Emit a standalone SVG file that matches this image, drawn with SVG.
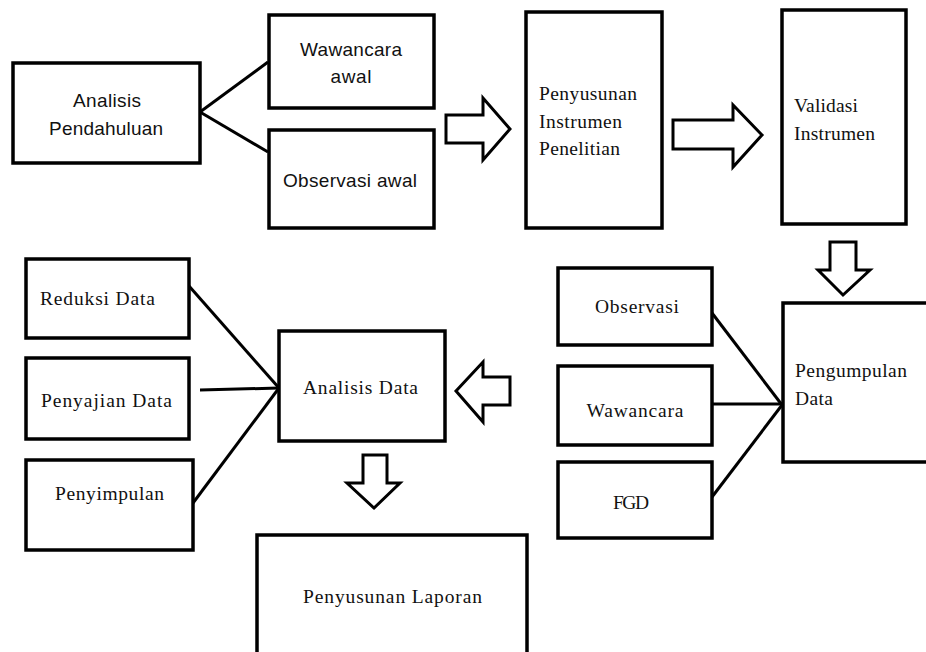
<svg xmlns="http://www.w3.org/2000/svg" width="926" height="652" viewBox="0 0 926 652">
<style>
.box{fill:#fff;stroke:#000;stroke-width:3.5}
.ln{stroke:#000;stroke-width:3;fill:none}
.arr{fill:#fff;stroke:#000;stroke-width:3;stroke-linejoin:miter}
.s{font-family:"Liberation Sans",Arial,sans-serif;font-size:19px;fill:#111}
.t{font-family:"Liberation Serif","Times New Roman",serif;font-size:19.5px;fill:#111}
</style>
<rect width="926" height="652" fill="#fff"/>
<g id="connectors">
<line class="ln" x1="200" y1="112" x2="268" y2="62"/>
<line class="ln" x1="200" y1="112" x2="268" y2="152"/>
<line class="ln" x1="189" y1="286" x2="279" y2="388"/>
<line class="ln" x1="200" y1="390" x2="279" y2="388"/>
<line class="ln" x1="193" y1="503" x2="279" y2="388"/>
<line class="ln" x1="712" y1="313" x2="782" y2="405"/>
<line class="ln" x1="712" y1="404" x2="782" y2="404"/>
<line class="ln" x1="712" y1="497" x2="782" y2="405"/>
<polygon class="arr" points="446,115 483,115 483,98 510,129 483,160 483,143 446,143"/>
<polygon class="arr" points="673,120 733,120 733,105 762,135 733,167 733,149 673,149"/>
<polygon class="arr" points="830,242 856,242 856,270 870,270 843,295 818,270 830,270"/>
<polygon class="arr" points="510,377 483,377 483,362 456,391 483,422 483,405 510,405"/>
<polygon class="arr" points="363,455 387,455 387,483 400,483 374,508 347,483 363,483"/>
</g>
<g id="analisis-pendahuluan">
<rect class="box" x="13" y="63" width="187" height="100"/>
<text class="s" x="107" y="107" text-anchor="middle" textLength="68">Analisis</text>
<text class="s" x="106" y="135" text-anchor="middle" textLength="114">Pendahuluan</text>
</g>
<g id="wawancara-awal">
<rect class="box" x="269" y="15" width="165" height="93"/>
<text class="s" x="351" y="56" text-anchor="middle" textLength="102">Wawancara</text>
<text class="s" x="351" y="83" text-anchor="middle" textLength="41">awal</text>
</g>
<g id="observasi-awal">
<rect class="box" x="269" y="130" width="165" height="98"/>
<text class="s" x="350" y="187" text-anchor="middle" textLength="134">Observasi awal</text>
</g>
<g id="penyusunan-instrumen">
<rect class="box" x="526" y="12" width="136" height="216"/>
<text class="t" x="539" y="100" textLength="98">Penyusunan</text>
<text class="t" x="539" y="128" textLength="83">Instrumen</text>
<text class="t" x="539" y="155" textLength="81">Penelitian</text>
</g>
<g id="validasi-instrumen">
<rect class="box" x="782" y="10" width="124" height="214"/>
<text class="t" x="794" y="112" textLength="64">Validasi</text>
<text class="t" x="794" y="140" textLength="81">Instrumen</text>
</g>
<g id="pengumpulan-data">
<rect class="box" x="783" y="303" width="150" height="159"/>
<text class="t" x="795" y="377" textLength="112">Pengumpulan</text>
<text class="t" x="795" y="405" textLength="38">Data</text>
</g>
<g id="observasi">
<rect class="box" x="558" y="268" width="154" height="77"/>
<text class="t" x="637" y="313" text-anchor="middle" textLength="84">Observasi</text>
</g>
<g id="wawancara">
<rect class="box" x="558" y="366" width="154" height="79"/>
<text class="t" x="635" y="417" text-anchor="middle" textLength="97">Wawancara</text>
</g>
<g id="fgd">
<rect class="box" x="558" y="462" width="154" height="76"/>
<text class="t" x="631" y="509" text-anchor="middle" textLength="36">FGD</text>
</g>
<g id="reduksi-data">
<rect class="box" x="26" y="259" width="163" height="79"/>
<text class="t" x="40" y="305" textLength="115">Reduksi Data</text>
</g>
<g id="penyajian-data">
<rect class="box" x="26" y="358" width="163" height="81"/>
<text class="t" x="41" y="407" textLength="131">Penyajian Data</text>
</g>
<g id="penyimpulan">
<rect class="box" x="26" y="460" width="167" height="90"/>
<text class="t" x="55" y="500" textLength="109">Penyimpulan</text>
</g>
<g id="analisis-data">
<rect class="box" x="279" y="331" width="166" height="110"/>
<text class="t" x="303" y="394" textLength="115">Analisis Data</text>
</g>
<g id="penyusunan-laporan">
<rect class="box" x="257" y="535" width="270" height="130"/>
<text class="t" x="303" y="603" textLength="179">Penyusunan Laporan</text>
</g>
</svg>
